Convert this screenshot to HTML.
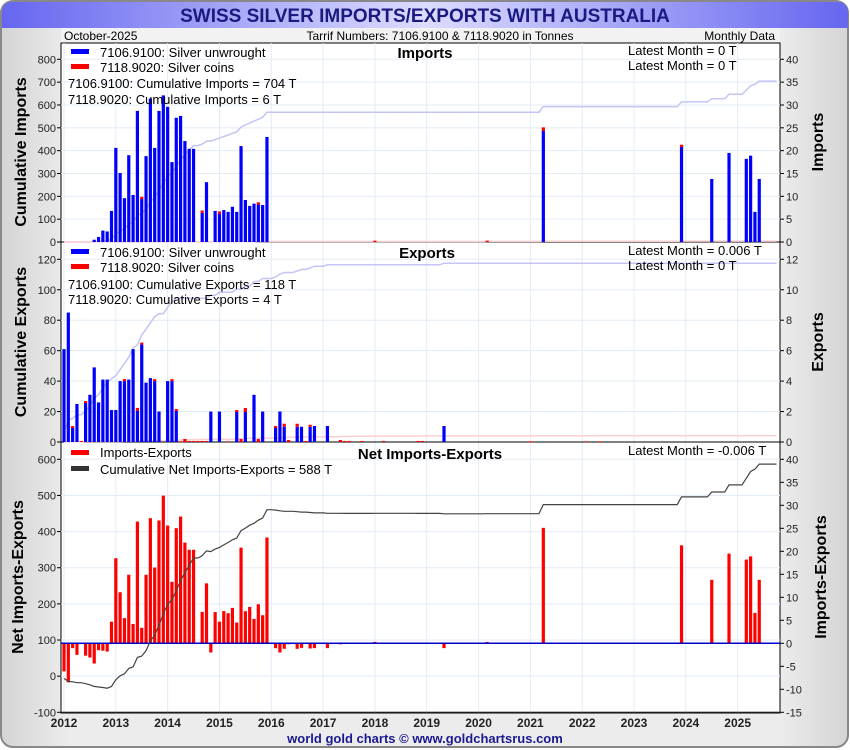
<!DOCTYPE html>
<html><head><meta charset="utf-8"><style>
body{margin:0;width:850px;height:750px;overflow:hidden;background:#fff;font-family:"Liberation Sans",sans-serif}
svg{display:block}
</style></head><body>
<svg id="c" width="850" height="750" xmlns="http://www.w3.org/2000/svg">
<defs>
<linearGradient id="tb" x1="0" x2="1" y1="0" y2="0"><stop offset="0" stop-color="#6666f0"/><stop offset="0.5" stop-color="#dcdcff"/><stop offset="1" stop-color="#6666f0"/></linearGradient>
<linearGradient id="bg" x1="0" x2="1" y1="0" y2="0"><stop offset="0" stop-color="#d4d4d4"/><stop offset="0.08" stop-color="#ececec"/><stop offset="0.92" stop-color="#ececec"/><stop offset="1" stop-color="#d4d4d4"/></linearGradient>
</defs>
<rect x="1" y="1" width="847" height="746" rx="12" fill="url(#bg)" stroke="#888" stroke-width="2"/>
<path d="M2,28 L2,13 Q2,2 13,2 L837,2 Q848,2 848,13 L848,28 Z" fill="url(#tb)"/>
<text x="425" y="22" text-anchor="middle" font-size="19" font-weight="bold" fill="#1a1a80">SWISS SILVER IMPORTS/EXPORTS WITH AUSTRALIA</text>
<rect x="61" y="28" width="719" height="15" fill="#f2f2f2"/>
<text x="64" y="40" font-size="12" fill="#000">October-2025</text>
<text x="440" y="40" font-size="12" text-anchor="middle" fill="#000">Tarrif Numbers: 7106.9100 &amp; 7118.9020 in Tonnes</text>
<text x="775" y="40" font-size="12" text-anchor="end" fill="#000">Monthly Data</text>
<rect x="61" y="43" width="719" height="670" fill="#fff" stroke="#000" stroke-width="1"/>
<g id="g"></g>
<text x="425" y="743" text-anchor="middle" font-size="13" font-weight="bold" fill="#1a1a90">world gold charts © www.goldchartsrus.com</text>
</svg>
<script>
const years=["2012","2013","2014","2015","2016","2017","2018","2019","2020","2021","2022","2023","2024","2025"];
const impU=[0,0,0,0,0,0,0,0.5,1.1,2.5,2.3,6.8,
20.6,15.1,9.6,19,10.3,28.7,9.4,18.8,31.4,20.6,28.7,32.1,
29.6,17.5,27.2,27.6,22.1,20.4,20.4,0,6.4,13.1,0,6.8,
6.2,7,6.6,7.7,6.6,21,9.2,7.9,8.4,8.2,8.1,23,
0,0,0,0,0,0,0,0,0,0,0,0,
0,0,0,0,0,0,0,0,0,0,0,0,
0,0,0,0,0,0,0,0,0,0,0,0,
0,0,0,0,0,0,0,0,0,0,0,0,
0,0,0,0,0,0,0,0,0,0,0,0,
0,0,0,24.3,0,0,0,0,0,0,0,0,
0,0,0,0,0,0,0,0,0,0,0,0,
0,0,0,0,0,0,0,0,0,0,0,20.8,
0,0,0,0,0,0,13.8,0,0,0,19.5,0,
0,0,18.2,18.9,6.6,13.8,0,0,0,0];
const impC=[0,0,0,0,0,0,0,0,0,0,0,0,
0,0,0,0,0,0,0.5,0,0,0,0,0,
0,0,0,0,0,0,0,0,0.5,0,0,0,
0.5,0,0,0,0,0,0,0,0,0.5,0,0,
0,0,0,0,0,0,0,0,0,0,0,0,
0,0,0,0,0,0,0,0,0,0,0,0,
0.3,0,0,0,0,0,0,0,0,0,0,0,
0,0,0,0,0,0,0,0,0,0,0,0,
0,0,0.3,0,0,0,0,0,0,0,0,0,
0,0,0,0.8,0,0,0,0,0,0,0,0,
0,0,0,0,0,0,0,0,0,0,0,0,
0,0,0,0,0,0,0,0,0,0,0,0.5,
0,0,0,0,0,0,0,0,0,0,0,0,
0,0,0,0,0,0,0,0,0,0];
const expU=[6.1,8.5,0.92,2.5,0,2.56,3.1,4.9,2.6,4.1,4.1,2.1,
2.1,4.0,4.0,4.1,6.1,2.04,6.4,3.9,4.2,4.0,2.0,0,
4.0,4.0,2.04,0,0,0,0,0,0,0,2.0,0,
2.0,0,0,0,1.97,0,1.97,0,3.1,0,2.0,0,
0,0.92,2.0,1.0,0,0,1.0,1.0,0,1.0,1.05,0,
0,1.05,0,0,0,0,0,0,0,0,0,0,
0,0,0,0,0,0,0,0,0,0,0,0,
0,0,0,0,1.05,0,0,0,0,0,0,0,
0,0,0,0,0,0,0,0,0,0,0,0,
0,0,0,0,0,0,0,0,0,0,0,0,
0,0,0,0,0,0,0,0,0,0,0,0,
0,0,0,0,0,0,0,0,0,0,0,0,
0,0,0,0,0,0,0,0,0,0,0,0,
0,0,0,0,0,0,0,0,0,0];
const expC=[0,0,0.13,0,0.07,0.13,0,0,0,0,0,0,
0,0,0.13,0,0,0.2,0.13,0,0,0.13,0,0,
0,0.13,0.13,0.05,0.2,0.07,0.07,0.07,0.07,0.07,0,0,
0,0,0.05,0,0.13,0.2,0.26,0,0,0.2,0,0,
0,0.13,0,0.2,0.13,0,0.2,0,0.07,0.13,0,0,
0,0,0,0,0.13,0.07,0.07,0,0,0.07,0,0,
0,0,0.07,0,0,0,0,0,0,0,0.07,0.07,
0,0,0,0,0,0,0,0,0,0,0,0,
0,0,0,0,0,0,0,0,0,0,0,0,
0.05,0,0,0,0,0,0,0,0,0,0,0,
0,0.05,0,0,0.05,0,0,0,0,0,0,0,
0,0,0,0,0,0,0,0,0,0,0,0,
0,0,0,0,0,0,0,0,0,0,0,0,
0,0,0,0,0,0,0,0,0,0];
const p1L=[0,100,200,300,400,500,600,700,800], p1R=[0,5,10,15,20,25,30,35,40];
const p2L=[0,20,40,60,80,100,120], p2R=[0,2,4,6,8,10,12];
const p3L=[-100,0,100,200,300,400,500,600], p3R=[-15,-10,-5,0,5,10,15,20,25,30,35,40];

const NS="http://www.w3.org/2000/svg", G=document.getElementById('g');
function mk(t,a,txt){const e=document.createElementNS(NS,t);for(const k in a)e.setAttribute(k,a[k]);if(txt!=null)e.textContent=txt;G.appendChild(e);return e;}
const PX0=61,PX1=780;
const X=i=>64+i*51.82/12;
const y1L=v=>242-v*182.7/800, y1R=v=>242-v*182.7/40;
const y2L=v=>442-v*182.7/120, y2R=v=>442-v*182.7/12;
const y3L=v=>712.3-(v+100)*253/700, y3R=v=>712.3-(v+15)*253/55;

years.forEach((y,k)=>{const x=64+k*51.82;
 const l=mk('line',{x1:x,x2:x,y1:43,y2:713,stroke:'#e2ecf6','stroke-width':1});
 
 const t=mk('text',{x:x,y:727,'text-anchor':'middle','font-size':12,'font-weight':'bold',fill:'#222'},y);
 
});
function axes(L,R,yL,yR,top,bot){
 L.forEach(v=>{const y=yL(v);
  const g=mk('line',{x1:PX0,x2:PX1,y1:y,y2:y,stroke:'#e2ecf6'});
  mk('line',{x1:PX0-4,x2:PX0,y1:y,y2:y,stroke:'#000'});
  const t=mk('text',{x:56,y:y+4,'text-anchor':'end','font-size':11,fill:'#222'},v);});
 R.forEach(v=>{const y=yR(v);
  mk('line',{x1:PX1,x2:PX1+4,y1:y,y2:y,stroke:'#000'});
  const t=mk('text',{x:786,y:y+4,'font-size':11,fill:'#222'},v);});
 const s=mk('line',{x1:PX0,x2:PX1,y1:bot,y2:bot,stroke:'#000'});
}
axes(p1L,p1R,y1L,y1R,43,242);
axes(p2L,p2R,y2L,y2R,242,442);
axes(p3L,p3R,y3L,y3R,442,712.3);

function stacked(U,C,yR,panel){
 for(let i=0;i<U.length;i++){const x=X(i)-1.6;
  if(U[i]>0){const r=mk('rect',{x:x,y:yR(U[i]),width:3.2,height:yR(0)-yR(U[i]),fill:'#0000ff'});}
  if(C[i]>0){const r=mk('rect',{x:x,y:yR(U[i]+C[i]),width:3.2,height:Math.max(1,yR(U[i])-yR(U[i]+C[i])),fill:'#ff0000'});}
 }
}
function cumLine(arr,yL,col,w,name){let s=0,pts=[];arr.forEach((v,i)=>{s+=v;pts.push(X(i).toFixed(1)+','+yL(s).toFixed(1));});
 const p=mk('polyline',{points:pts.join(' '),fill:'none',stroke:col,'stroke-width':w});}
cumLine(impU,y1L,'#c4c4f6',1.5,'cumulative-imports-unwrought-line');
cumLine(impC,y1L,'#fbd0d0',1.5,'cumulative-imports-coins-line');
stacked(impU,impC,y1R,'imports');
cumLine(expU,y2L,'#c4c4f6',1.5,'cumulative-exports-unwrought-line');
cumLine(expC,y2L,'#fbd0d0',1.5,'cumulative-exports-coins-line');
stacked(expU,expC,y2R,'exports');

const net=impU.map((v,i)=>v+impC[i]-expU[i]-expC[i]);
net.forEach((v,i)=>{if(Math.abs(v)<0.1)return;const a=y3R(Math.max(v,0)),b=y3R(Math.min(v,0));
 const r=mk('rect',{x:X(i)-1.6,y:a,width:3.2,height:Math.max(1,b-a),fill:'#ff0000'});});
const z=mk('line',{x1:PX0,x2:PX1,y1:y3R(0),y2:y3R(0),stroke:'#0000cc','stroke-width':1.5});
cumLine(net,y3L,'#444',1.2,'cumulative-net-line');

function txt(x,y,s,attrs,name){const t=mk('text',Object.assign({x:x,y:y,'font-size':13,fill:'#000'},attrs||{}),s);return t;}
function sw(y,col,name){const r=mk('rect',{x:71,y:y-3,width:18,height:5,fill:col});}
txt(425,58,'Imports',{'font-size':15,'font-weight':'bold','text-anchor':'middle'},'imports-panel-title');
sw(52,'#0000ff','legend-swatch-unwrought');txt(100,57,'7106.9100: Silver unwrought',{},'legend-entry-unwrought');
sw(67,'#ff0000','legend-swatch-coins');txt(100,72,'7118.9020: Silver coins',{},'legend-entry-coins');
txt(68,88,'7106.9100: Cumulative Imports = 704 T',{},'cumulative-imports-note');
txt(68,104,'7118.9020: Cumulative Imports = 6 T',{},'cumulative-coins-imports-note');
txt(628,55,'Latest Month = 0 T',{},'latest-month-imports');
txt(628,70,'Latest Month = 0 T',{},'latest-month-coins-imports');
txt(427,258,'Exports',{'font-size':15,'font-weight':'bold','text-anchor':'middle'},'exports-panel-title');
sw(252,'#0000ff','legend-swatch-unwrought');txt(100,257,'7106.9100: Silver unwrought',{},'legend-entry-unwrought');
sw(267,'#ff0000','legend-swatch-coins');txt(100,272,'7118.9020: Silver coins',{},'legend-entry-coins');
txt(68,289,'7106.9100: Cumulative Exports = 118 T',{},'cumulative-exports-note');
txt(68,304,'7118.9020: Cumulative Exports = 4 T',{},'cumulative-coins-exports-note');
txt(628,255,'Latest Month = 0.006 T',{},'latest-month-exports');
txt(628,270,'Latest Month = 0 T',{},'latest-month-coins-exports');
txt(430,459,'Net Imports-Exports',{'font-size':15,'font-weight':'bold','text-anchor':'middle'},'net-panel-title');
sw(453,'#ff0000','legend-swatch-net');txt(100,457,'Imports-Exports',{},'legend-entry-net');
sw(469,'#333','legend-swatch-cumulative-net');txt(100,474,'Cumulative Net Imports-Exports = 588 T',{},'legend-entry-cumulative-net');
txt(628,455,'Latest Month = -0.006 T',{},'latest-month-net');
function vt(x,y,s,name){const t=mk('text',{x:x,y:y,'font-size':16,'font-weight':'bold','text-anchor':'middle',transform:`rotate(-90 ${x} ${y})`},s);}
vt(26,152,'Cumulative Imports','left-axis-title-imports');
vt(823,142,'Imports','right-axis-title-imports');
vt(26,342,'Cumulative Exports','left-axis-title-exports');
vt(823,342,'Exports','right-axis-title-exports');
vt(23,577,'Net Imports-Exports','left-axis-title-net');
vt(826,577,'Imports-Exports','right-axis-title-net');
</script>
</body></html>
